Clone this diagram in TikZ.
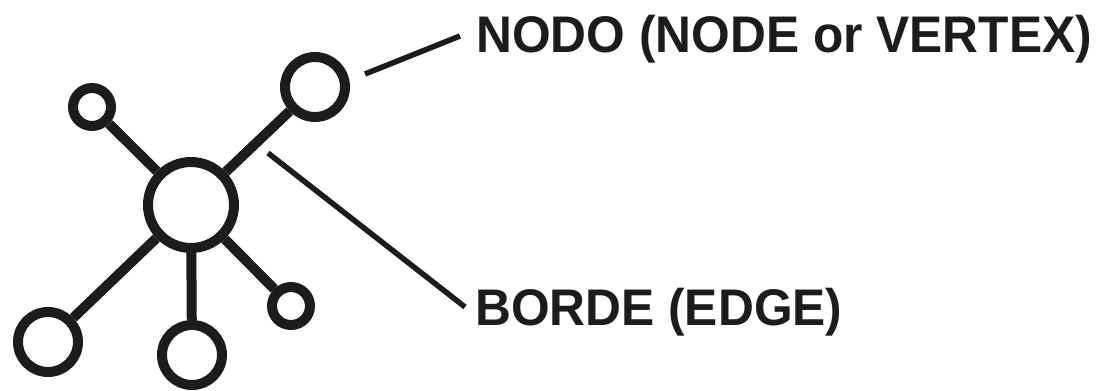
\documentclass[tikz,border=0pt]{standalone}
\usepackage{fontspec}
\newfontfamily\labfont[FakeStretch=0.965]{Liberation Sans}
\definecolor{ink}{HTML}{1C1C1C}
\begin{document}
\begin{tikzpicture}[x=1pt,y=-1pt,
  vert/.style={circle,draw=ink,line width=10pt,inner sep=0pt,fill=white},
  big/.style={vert,minimum size=86pt},
  mid/.style={vert,minimum size=60pt},
  small/.style={vert,minimum size=38pt},
  edge/.style={draw=ink,line width=10pt},
  pointer/.style={draw=ink,line width=5.5pt},
  lab/.style={anchor=base west,inner sep=0pt,font=\labfont\bfseries\fontsize{51.5}{60}\selectfont,text=ink}]
\useasboundingbox (0,0) rectangle (1101,391);
\node[big]   (c)  at (191,205) {};
\node[mid]   (tr) at (315,87)  {};
\node[small] (tl) at (92,107)  {};
\node[mid]   (bl) at (48,342)  {};
\node[mid]   (bm) at (192,355) {};
\node[small] (br) at (291,306) {};
\draw[edge] (c) -- (tr);
\draw[edge] (c) -- (tl);
\draw[edge] (c) -- (bl);
\draw[edge] (c) -- (bm);
\draw[edge] (c) -- (br);
\coordinate (p1) at (365,74);
\coordinate (p2) at (460,36);
\coordinate (q1) at (268,153);
\coordinate (q2) at (465,307);
\node[lab] (nodo) at (476,52) {NODO (NODE or VERTEX)};
\node[lab] (borde) at (475,325) {BORDE (EDGE)};
\draw[pointer] (p1) -- (p2);
\draw[pointer] (q1) -- (q2);
\end{tikzpicture}
\end{document}
